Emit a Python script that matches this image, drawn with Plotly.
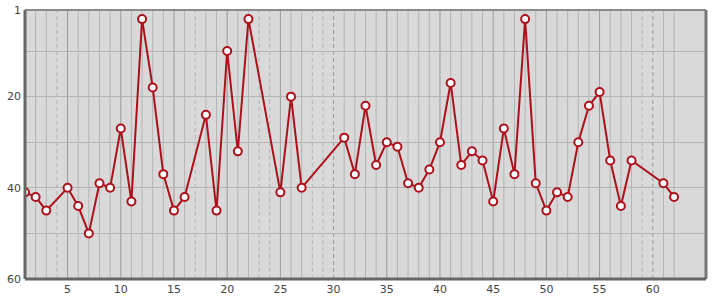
import plotly.graph_objects as go

x_vals = [1, 2, 3, 5, 6, 7, 8, 9, 10, 11, 12, 13, 14, 15, 16, 18, 19, 20, 21, 22,
          25, 26, 27, 31, 32, 33, 34, 35, 36, 37, 38, 39, 40, 41, 42, 43, 44, 45,
          46, 47, 48, 49, 50, 51, 52, 53, 54, 55, 56, 57, 58, 61, 62]
y_vals = [41, 42, 45, 40, 44, 50, 39, 40, 27, 43, 3, 18, 37, 45, 42, 24, 45, 10, 32, 3,
          41, 20, 40, 29, 37, 22, 35, 30, 31, 39, 40, 36, 30, 17, 35, 32, 34, 43,
          27, 37, 3, 39, 45, 41, 42, 30, 22, 19, 34, 44, 34, 39, 42]

x_ticks = [5, 10, 15, 20, 25, 30, 35, 40, 45, 50, 55, 60]
y_grid = [1, 10, 20, 30, 40, 50, 60]
y_labels = ["1", "", "20", "", "40", "", "60"]

line_color = "#ad111b"

fig = go.Figure()
fig.add_trace(go.Scatter(
    x=x_vals, y=y_vals, mode="lines+markers",
    line=dict(color=line_color, width=2),
    marker=dict(size=8, color="white", line=dict(color=line_color, width=2)),
    hoverinfo="x+y", showlegend=False,
))

shapes = []
data_set = set(x_vals)
for i in range(1, max(x_vals) + 1):
    major = i % 5 == 0
    col = "#9a9a9a" if major else "#b4b4b4"
    dash = "solid" if i in data_set else "4px,3px"
    shapes.append(dict(type="line", xref="x", yref="paper", x0=i, x1=i, y0=0, y1=1,
                       line=dict(color=col, width=1, dash=dash), layer="below"))

# frame
shapes.append(dict(type="line", xref="paper", yref="paper", x0=0, x1=1, y0=1, y1=1,
                   line=dict(color="#8a8a8a", width=2), layer="above"))
shapes.append(dict(type="line", xref="paper", yref="paper", x0=1, x1=1, y0=0, y1=1,
                   line=dict(color="#777777", width=3), layer="above"))
shapes.append(dict(type="line", xref="paper", yref="paper", x0=0, x1=0, y0=0, y1=1,
                   line=dict(color="#666666", width=3), layer="above"))
shapes.append(dict(type="line", xref="paper", yref="paper", x0=0, x1=1, y0=0, y1=0,
                   line=dict(color="#666666", width=3), layer="above"))

fig.update_layout(
    width=715, height=300,
    margin=dict(l=25, r=9, t=10, b=21),
    paper_bgcolor="white",
    plot_bgcolor="#d9d9d9",
    shapes=shapes,
    font=dict(family="DejaVu Sans", size=11, color="#444444"),
    xaxis=dict(range=[1, 65], tickvals=x_ticks, showgrid=False, zeroline=False,
               ticks="", ticklen=0, showline=False, automargin=False,
               ticklabelstandoff=2),
    yaxis=dict(range=[60, 1], tickvals=y_grid, ticktext=y_labels, showgrid=True,
               gridcolor="#b4b4b4", gridwidth=1, zeroline=False, ticks="",
               showline=False, automargin=False, ticklabelstandoff=3),
)

fig.write_html("out.html")
